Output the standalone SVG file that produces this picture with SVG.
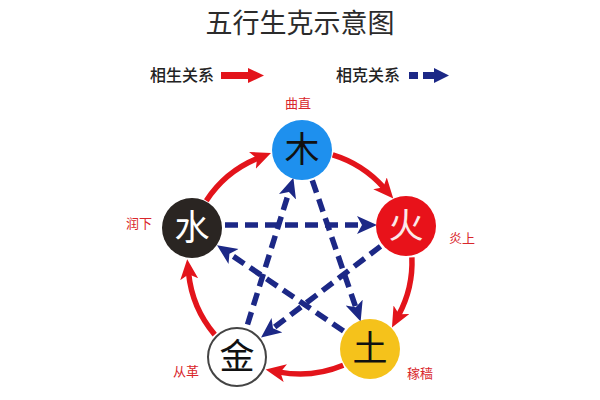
<svg xmlns="http://www.w3.org/2000/svg" width="600" height="400" viewBox="0 0 600 400">
<style>
text{font-family:"Noto Sans CJK SC","Noto Sans",sans-serif;text-anchor:middle}
.title{font-size:27px;fill:#2b2b2b}
.leg{font-size:16px;fill:#222;font-weight:500}
.lab{font-size:13px;fill:#d9262b}
.ch{font-size:35px}
.sheng{fill:none;stroke:#e3141b;stroke-width:5.5;marker-end:url(#ra)}
.ke{fill:none;stroke:#1c2886;stroke-width:5.5;stroke-dasharray:13 7;marker-end:url(#ba)}
</style>
<defs>
<marker id="ra" markerUnits="userSpaceOnUse" markerWidth="22" markerHeight="20" refX="6" refY="9" orient="auto">
<path d="M0,0 L20,9 L0,18 L5,9 z" fill="#e3141b"/>
</marker>
<marker id="ba" markerUnits="userSpaceOnUse" markerWidth="22" markerHeight="20" refX="6" refY="9" orient="auto">
<path d="M0,0 L20,9 L0,18 L5,9 z" fill="#1c2886"/>
</marker>
</defs>
<rect width="600" height="400" fill="#fff"/>
<text class="title" x="300" y="33">五行生克示意图</text>
<g id="legend">
<text class="leg" x="182" y="81">相生关系</text>
<rect x="221" y="72" width="28" height="7" fill="#e3141b"/>
<path d="M248,68 L264,75.5 L248,83 z" fill="#e3141b"/>
<text class="leg" x="368" y="81">相克关系</text>
<rect x="409" y="72" width="9" height="7" fill="#1c2886"/>
<rect x="423" y="72" width="12" height="7" fill="#1c2886"/>
<path d="M434,68 L449,75.5 L434,83 z" fill="#1c2886"/>
</g>
<g id="connectors">
<path class="sheng" d="M332.7,154.9 A112,112 0 0 1 384,187.9"/>
<path class="sheng" d="M411.9,257.3 A112,112 0 0 1 398.6,315.1"/>
<path class="sheng" d="M343.2,365.3 A112,112 0 0 1 279.4,372.1"/>
<path class="sheng" d="M214.7,334.6 A112,112 0 0 1 188.6,273.3"/>
<path class="sheng" d="M206.3,200.7 A112,112 0 0 1 258,158.2"/>
<path class="ke" d="M312.3,180.3 L356.1,308.3"/>
<path class="ke" d="M343.5,331 L228.6,253.1"/>
<path class="ke" d="M225,225 L363,225"/>
<path class="ke" d="M380.5,246.4 L272.2,328.9"/>
<path class="ke" d="M247.5,324.5 L289.2,191.1"/>
</g>
<g id="wood">
<circle cx="302" cy="150" r="30" fill="#1e90ee"/>
<text class="ch" x="302" y="162" fill="#111">木</text>
<text class="lab" x="298" y="108">曲直</text>
</g>
<g id="fire">
<circle cx="406" cy="226" r="30" fill="#e8121a"/>
<text class="ch" x="406" y="238" fill="#fbe9e9">火</text>
<text class="lab" x="462" y="243">炎上</text>
</g>
<g id="earth">
<circle cx="370" cy="349" r="30" fill="#f5c21b"/>
<text class="ch" x="370" y="361" fill="#111">土</text>
<text class="lab" x="420" y="378">稼穑</text>
</g>
<g id="metal">
<circle cx="237" cy="357" r="29" fill="#fff" stroke="#444" stroke-width="2"/>
<text class="ch" x="237" y="369" fill="#111">金</text>
<text class="lab" x="186" y="376">从革</text>
</g>
<g id="water">
<circle cx="192" cy="228" r="30" fill="#2a2522"/>
<text class="ch" x="192" y="240" fill="#fff">水</text>
<text class="lab" x="139" y="228">润下</text>
</g>
</svg>
